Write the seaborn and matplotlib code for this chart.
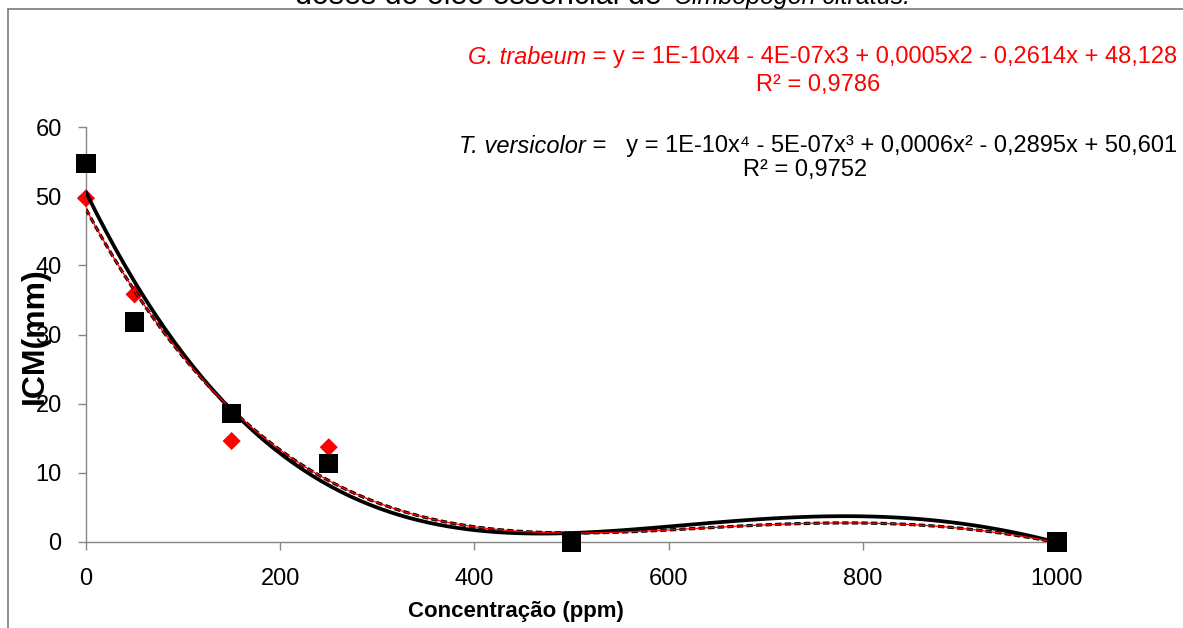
import numpy as np
import pandas as pd
import matplotlib
matplotlib.use("Agg")
import matplotlib.pyplot as plt
import seaborn as sns
from matplotlib.lines import Line2D

concentracao = [0, 50, 150, 250, 500, 1000]
icm_trabeum = [49.7, 35.8, 14.6, 13.7, 0.0, 0.0]
icm_versicolor = [54.7, 31.8, 18.6, 11.4, 0.0, 0.0]

# the Excel trend lines (their shown equations are rounded)
curva_x = [0, 100, 200, 300, 400, 500, 600, 700, 800, 900, 1000]
curva_trabeum = [48.1, 26.8, 13.2, 6.0, 1.8, 1.4, 1.8, 2.5, 2.85, 1.8, 0.0]
curva_versicolor = [50.6, 27.1, 12.8, 5.4, 1.3, 1.2, 2.4, 3.4, 3.8, 2.5, 0.0]

x_ticks = [0, 200, 400, 600, 800, 1000]
y_ticks = [0, 10, 20, 30, 40, 50, 60]

titulo_1 = "doses do óleo essencial de"
titulo_2 = "Cimbopogon citratus."
nome_trabeum = "G. trabeum"
eq_trabeum = " = y = 1E-10x4 - 4E-07x3 + 0,0005x2 - 0,2614x + 48,128"
r2_trabeum = "R² = 0,9786"
nome_versicolor = "T. versicolor"
eq_versicolor = " =   y = 1E-10x⁴ - 5E-07x³ + 0,0006x² - 0,2895x + 50,601"
r2_versicolor = "R² = 0,9752"

df = pd.DataFrame({"conc": concentracao,
                   "trabeum": icm_trabeum,
                   "versicolor": icm_versicolor})
df_curva = pd.DataFrame({"conc": curva_x,
                         "trabeum": curva_trabeum,
                         "versicolor": curva_versicolor})

sns.set_style("white")
plt.rcParams['font.family'] = ['Liberation Sans', 'DejaVu Sans']
plt.rcParams['text.color'] = 'black'

W, H = 1183, 628
fig = plt.figure(figsize=(W / 100, H / 100), dpi=100)
ax = fig.add_axes([86 / W, 1 - 542 / H, (1057 - 86) / W, (542 - 127) / H])

# G. trabeum: red diamonds, dashed black trend line with a thin red line inside
sns.scatterplot(data=df, x="conc", y="trabeum", marker="D", s=85, color="red",
                edgecolor="none", ax=ax, zorder=3, clip_on=False)
sns.regplot(data=df_curva, x="conc", y="trabeum", order=4, ci=None, scatter=False, ax=ax,
            line_kws=dict(color="black", lw=2.3, ls=(0, (2, 1)), zorder=4))
sns.regplot(data=df_curva, x="conc", y="trabeum", order=4, ci=None, scatter=False, ax=ax,
            line_kws=dict(color="red", lw=0.9, zorder=5))

# T. versicolor: black squares, solid black trend line
sns.regplot(data=df_curva, x="conc", y="versicolor", order=4, ci=None, scatter=False, ax=ax,
            line_kws=dict(color="black", lw=2.7, zorder=4))
sns.scatterplot(data=df, x="conc", y="versicolor", marker="s", s=190, color="black",
                edgecolor="none", ax=ax, zorder=6, clip_on=False)

ax.set_xlim(0, 1000)
ax.set_ylim(0, 60)
ax.set_xticks(x_ticks)
ax.set_yticks(y_ticks)
ax.set_xlabel("")
ax.set_ylabel("")
sns.despine(ax=ax)
for side in ["left", "bottom"]:
    ax.spines[side].set_color("#868686")
    ax.spines[side].set_linewidth(1)
ax.tick_params(axis="both", direction="out", length=5.5, width=1, color="#868686",
               labelsize=17, labelcolor="black", left=True, bottom=True)
ax.tick_params(axis="y", pad=12)
ax.tick_params(axis="x", pad=13)

# axis labels
fig.text(516 / W, 1 - 612 / H, "Concentração (ppm)", fontsize=16, fontweight="bold",
         ha="center", va="center")
fig.text(35 / W, 1 - 336 / H, "ICM(mm)", fontsize=23, fontweight="bold", rotation=90,
         ha="center", va="center")

# trend line equations
fs = 17
t1 = fig.text(1177 / W, 1 - 57 / H, eq_trabeum, color="red", fontsize=fs,
              ha="right", va="center")
ax.annotate(nome_trabeum, xy=(0, 0.5), xycoords=t1, color="red", fontsize=fs,
            style="italic", ha="right", va="center", annotation_clip=False)
fig.text(818 / W, 1 - 85 / H, r2_trabeum, color="red", fontsize=fs,
         ha="center", va="center")

t2 = fig.text(1177 / W, 1 - 146 / H, eq_versicolor, color="black", fontsize=fs,
              ha="right", va="center")
ax.annotate(nome_versicolor, xy=(0, 0.5), xycoords=t2, color="black", fontsize=fs,
            style="italic", ha="right", va="center", annotation_clip=False)
fig.text(805 / W, 1 - 170 / H, r2_versicolor, color="black", fontsize=fs,
         ha="center", va="center")

# title, cut off at the top edge as in the source
fig.text(662 / W, 1 - 4 / H, titulo_1, fontsize=22, ha="right", va="baseline")
fig.text(674 / W, 1 - 4 / H, titulo_2, fontsize=18, style="italic",
         ha="left", va="baseline")

# frame of the chart area
fig.add_artist(Line2D([8 / W, 8 / W], [0, 1 - 9 / H], transform=fig.transFigure,
                      color="#868686", lw=1.3))
fig.add_artist(Line2D([8 / W, 1], [1 - 9 / H, 1 - 9 / H], transform=fig.transFigure,
                      color="#868686", lw=1.3))

fig.savefig("out.png", dpi=100)
